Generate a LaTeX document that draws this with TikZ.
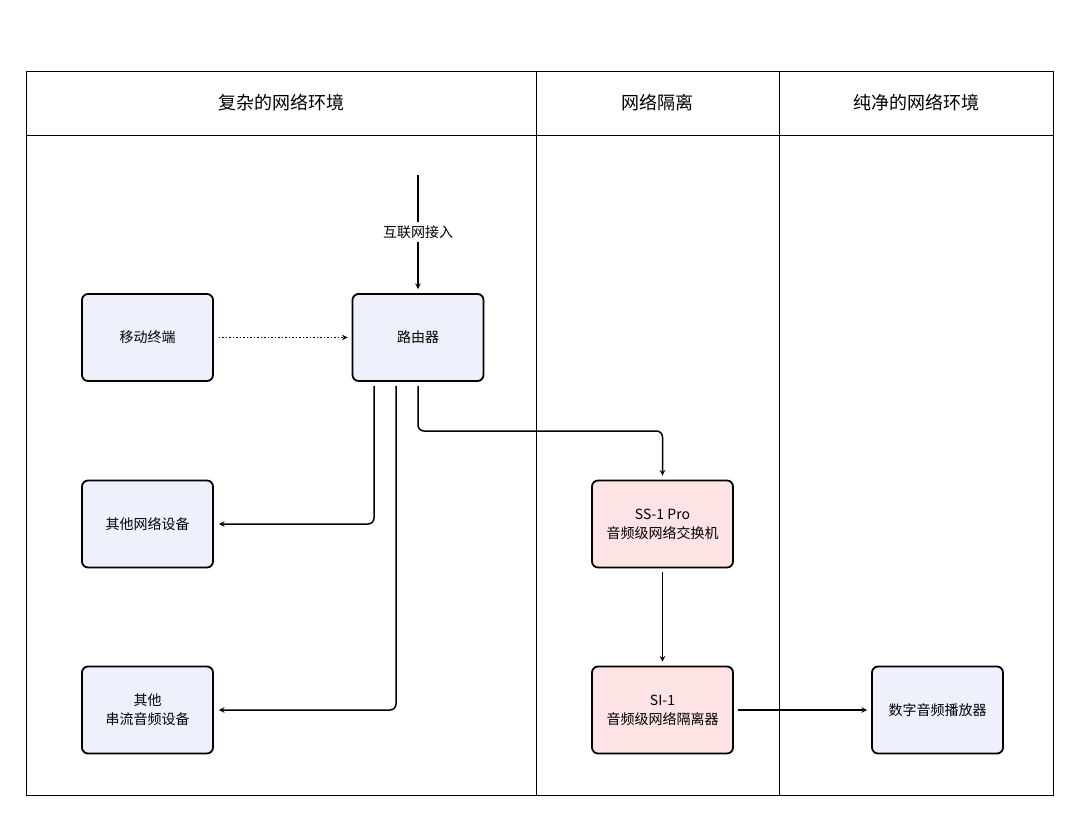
\documentclass[tikz,border=0pt]{standalone}
\usepackage{fontspec}
\setmainfont{Noto Sans CJK SC}
\usetikzlibrary{positioning}
\definecolor{boxblue}{HTML}{EEF1FB}
\definecolor{boxpink}{HTML}{FDE3E3}
\tikzset{device/.style={
  rectangle,rounded corners=6pt,
  draw,line width=1.8pt,fill=boxblue,
  minimum width=131pt,minimum height=87pt,
  align=center,font=\fontsize{14pt}{19pt}\selectfont}}
\tikzset{audio/.style={device,fill=boxpink,minimum width=141pt}}
\tikzset{lane/.style={font=\fontsize{18pt}{22pt}\selectfont}}
\tikzset{link/.style={->,line width=1.5pt,rounded corners=6pt}}
\tikzset{>=stealth}

\begin{document}
\begin{tikzpicture}[x=1pt,y=-1pt]
  \useasboundingbox (0,0) rectangle (1080,821);
  % lanes
  \draw[line width=0.8pt] (26,71) rectangle (1053,795);
  \draw[line width=0.8pt] (26,135) -- (1053,135);
  \draw[line width=0.8pt] (536,71) -- (536,795);
  \draw[line width=0.8pt] (779,71) -- (779,795);
  \node[lane] at (281,103) {复杂的网络环境};
  \node[lane] at (657,103) {网络隔离};
  \node[lane] at (916,103) {纯净的网络环境};
  % devices
  \node[device] (mobile) at (147.5,337.5) {移动终端};
  \node[device] (router) at (418,337.5) {路由器};
  \node[device] (other) at (147.5,524) {其他网络设备};
  \node[device] (stream) at (147.5,710) {其他\\串流音频设备};
  \node[audio] (switch) at (662.5,524) {SS-1 Pro\\音频级网络交换机};
  \node[audio] (isolator) at (662.5,710) {SI-1\\音频级网络隔离器};
  \node[device] (player) at (937.5,710) {数字音频播放器};
  \coordinate (wan) at (418,175);
  % links
  \draw[link] (wan) -- node[fill=white,font=\fontsize{14pt}{18pt}\selectfont]{互联网接入} ([yshift=4pt]router.north);
  \draw[link,dotted] ([xshift=5pt]mobile.east) -- ([xshift=-4pt]router.west);
  \draw[link] ([xshift=-44pt,yshift=-4pt]router.south) |- ([xshift=5pt]other.east);
  \draw[link] ([xshift=-22pt,yshift=-4pt]router.south) |- ([xshift=5pt]stream.east);
  \draw[link] ([yshift=-4pt]router.south) -- (418,431) -| ([yshift=4pt]switch.north);
  \draw[link] ([yshift=-4pt]switch.south) -- ([yshift=4pt]isolator.north);
  \draw[link] ([xshift=4pt]isolator.east) -- ([xshift=-4pt]player.west);
\end{tikzpicture}
\end{document}
